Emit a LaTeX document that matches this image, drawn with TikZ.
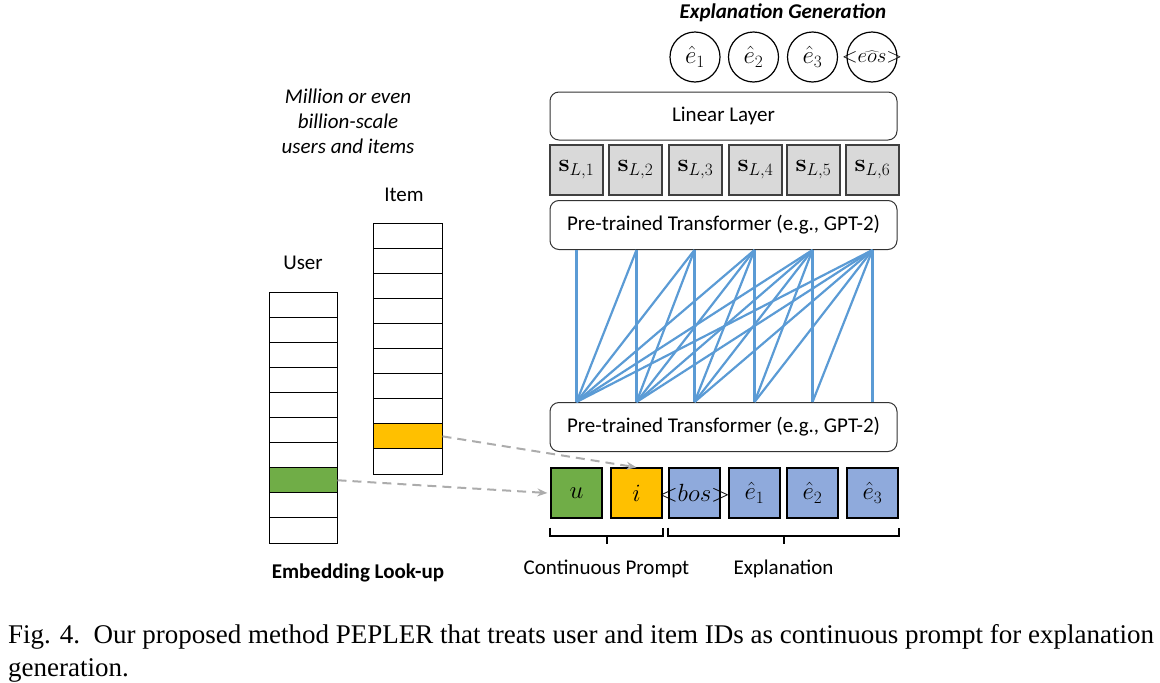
\documentclass[tikz,border=0pt]{standalone}
\usepackage[no-math]{fontspec}
\setmainfont{Carlito}
\newfontfamily\capfont{Liberation Serif}
\usetikzlibrary{arrows.meta,calc}
\definecolor{usergreen}{HTML}{70AD47}
\definecolor{itemyellow}{HTML}{FFC000}
\definecolor{tokblue}{HTML}{8FAADC}
\definecolor{hidgray}{HTML}{D9D9D9}
\definecolor{attnblue}{HTML}{5B9BD5}
\tikzset{>={Stealth[length=10pt,width=8pt]}}
\tikzset{
  layer/.style = {draw=black!80, line width=1pt, rounded corners=9pt,
    minimum width=347pt, minimum height=49pt, font=\fontsize{21}{24}\selectfont},
  token/.style = {draw, line width=1.3pt, minimum width=51pt, minimum height=50pt,
    inner sep=0pt, font=\fontsize{23}{24}\selectfont},
  hidden/.style = {token, fill=hidgray, draw=black!75, minimum width=53pt},
  outtok/.style = {circle, draw, line width=1.2pt, minimum size=50pt, inner sep=0pt,
    font=\fontsize{23}{24}\selectfont},
  cell/.style = {draw, line width=1pt, minimum height=25.1pt, inner sep=0pt},
  attn/.style = {attnblue, line width=2.2pt},
  lookup/.style = {->, gray!65, line width=2pt, dash pattern=on 9pt off 6pt},
  bracket/.style = {line width=2pt},
  lbl/.style = {font=\fontsize{21}{25}\selectfont, align=center}
}

\begin{document}
\begin{tikzpicture}[x=1pt, y=-1pt]
  \useasboundingbox (0,0) rectangle (1160,683);
  % transformer stack
  \node[layer] (lowT) at (723.5,427) {Pre-trained Transformer (e.g., GPT-2)};
  \node[layer] (upT) at (723.5,225) {Pre-trained Transformer (e.g., GPT-2)};
  \node[layer, minimum height=48pt] (lin) at (723.5,116) {Linear Layer};
  \foreach \x [count=\k] in {576.5,635.5,695.5,755.5,813.5,872.5}
    \node[hidden] (s\k) at (\x,170) {$\mathbf{s}_{L,\k}$};
  % input tokens
  \foreach \x/\col/\txt [count=\k] in {576.5/usergreen/$u$, 636.5/itemyellow/$i$,
      694.5/tokblue/{\makebox[45pt]{$\mathord{<}bos\mathord{>}$}}, 754.5/tokblue/$\hat{e}_1$,
      812.5/tokblue/$\hat{e}_2$, 872.5/tokblue/$\hat{e}_3$}
    \node[token, fill=\col] (t\k) at (\x,493) {\txt};
  % outputs
  \foreach \x/\txt [count=\k] in {695/$\hat{e}_1$, 753.5/$\hat{e}_2$,
      812.5/$\hat{e}_3$, 872/{\makebox[40pt]{\fontsize{20}{22}\selectfont$\mathord{<}\widehat{eos}\mathord{>}$}}}
    \node[outtok] (o\k) at (\x,57) {\txt};
  \node[font=\fontsize{21}{24}\selectfont\bfseries\itshape] (gen) at (783,13) {Explanation Generation};
  % causal attention
  \foreach \j in {1,...,6}
    \foreach \i in {\j,...,6}
      \draw[attn] (t\j |- lowT.north) -- (t\i |- upT.south);
  % embedding tables
  \foreach \k in {1,...,10}
    \node[cell, minimum width=68pt] (u\k) at (303,{292+12.55+25.1*(\k-1)}) {};
  \foreach \k in {1,...,10}
    \node[cell, minimum width=69pt] (it\k) at (407.5,{223+12.55+25.1*(\k-1)}) {};
  \node[cell, minimum width=68pt, fill=usergreen] at (u8) {};
  \node[cell, minimum width=69pt, fill=itemyellow] at (it9) {};
  \node[lbl] (user) at (303,263) {User};
  \node[lbl] (item) at (404,195) {Item};
  \node[lbl, font=\fontsize{21}{25}\selectfont\itshape] (scale) at (348,121)
    {Million or even\\billion-scale\\users and items};
  \node[lbl, font=\fontsize{21}{24}\selectfont\bfseries] (look) at (358,573) {Embedding Look-up};
  % look-up arrows
  \draw[lookup] (u8.east) -- ([xshift=-3pt]t1.west);
  \draw[lookup] (it9.east) -- (t2.north);
  % brackets
  \draw[bracket] ($(t1.south west)+(0,9)$) -- ++(0,8) -| ($(t2.south east)+(0,9)$);
  \draw[bracket] ($(t1.south west)!0.5!(t2.south east)+(0,17)$) -- ++(0,8) coordinate (pb);
  \draw[bracket] ($(t3.south west)+(0,9)$) -- ++(0,8) -| ($(t6.south east)+(0,9)$);
  \draw[bracket] ($(t3.south west)!0.5!(t6.south east)+(0,17)$) -- ++(0,8) coordinate (eb);
  \node[lbl] (prompt) at ($(pb)+(0,25)$) {Continuous Prompt};
  \node[lbl] (expl) at ($(eb)+(0,25)$) {Explanation};
  % caption
  \node[anchor=base west, inner sep=0pt, font=\capfont\fontsize{27}{33}\selectfont] (cap1) at (8,643)
    {Fig. 4.\ \ Our proposed method PEPLER that treats user and item IDs as continuous prompt for explanation};
  \node[anchor=base west, inner sep=0pt, font=\capfont\fontsize{27}{33}\selectfont] (cap2) at (8,676)
    {generation.};
\end{tikzpicture}
\end{document}
